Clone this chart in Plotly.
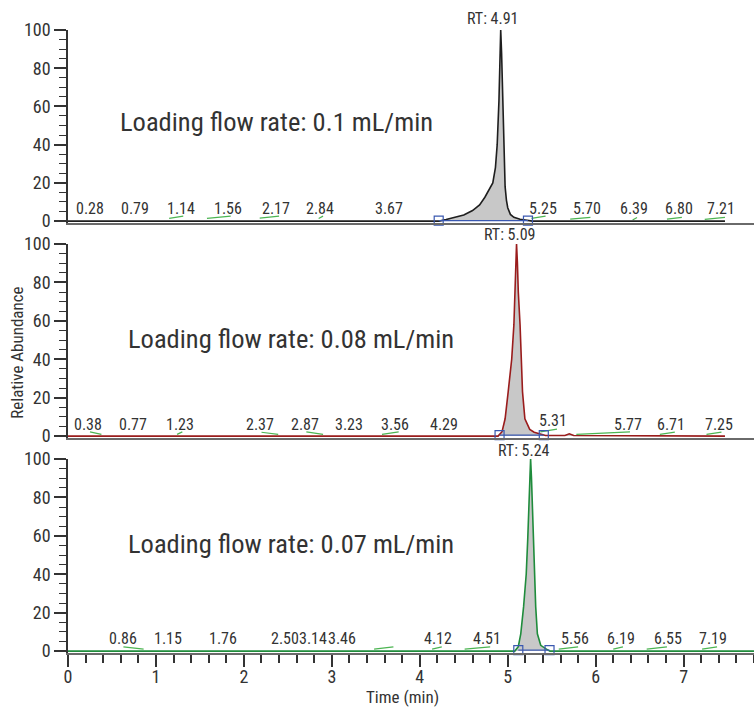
import plotly.graph_objects as go

# ---------------- data ----------------
# Panel 1: loading flow rate 0.1 mL/min
p1_t = [4.22, 4.30, 4.40, 4.50, 4.60, 4.68, 4.74, 4.79, 4.83, 4.86, 4.88, 4.90, 4.91, 4.92,
        4.93, 4.94, 4.95, 4.96, 4.97, 4.985, 5.00, 5.03, 5.07, 5.14, 5.22, 5.28]
p1_v = [0, 0.8, 1.8, 3.2, 5.5, 8.5, 12.5, 16.5, 20, 28, 40, 63, 85, 100,
        88, 70, 50, 30, 18, 11, 7, 3.5, 2, 1, 0.3, 0]
p1_end = 7.47
p1_labels = ["0.28", "0.79", "1.14", "1.56", "2.17", "2.84", "3.67", "5.25", "5.70", "6.39", "6.80", "7.21"]
p1_label_t = [0.25, 0.76, 1.28, 1.82, 2.37, 2.87, 3.65, 5.40, 5.90, 6.44, 6.95, 7.43]
p1_label_v = [6.6] * 12
p1_green_t0 = [1.15, 1.58, 2.18, 2.85, 5.27, 5.71, 6.42, 6.81, 7.24]
p1_green_v0 = [1.4, 1.4, 1.6, 1.4, 1.4, 1.0, 0.6, 1.0, 0.9]
p1_green_t1 = [1.31, 1.85, 2.40, 2.90, 5.43, 5.94, 6.47, 6.98, 7.47]
p1_green_v1 = [2.6, 2.6, 2.6, 2.6, 2.6, 1.9, 1.9, 1.9, 1.9]
p1_bounds_t = [4.215, 5.23]
p1_bounds_v = [0.2, 0.2]
p1_rt = "RT: 4.91"
p1_rt_t = 4.83
p1_title = "Loading flow rate: 0.1 mL/min"
p1_title_t = 2.37
p1_title_v = 52

# Panel 2: loading flow rate 0.08 mL/min
p2_t = [4.89, 4.935, 4.97, 5.005, 5.045, 5.07, 5.085, 5.095, 5.10, 5.11, 5.12, 5.14, 5.153,
        5.168, 5.195, 5.25, 5.30, 5.37, 5.43, 5.65, 5.70, 5.75]
p2_v = [0, 2.3, 9, 23, 40, 58, 75, 92, 100, 90, 75, 58, 40,
        23, 9, 3.5, 2, 1, 0.3, 0.3, 1.2, 0.3]
p2_end = 7.47
p2_labels = ["0.38", "0.77", "1.23", "2.37", "2.87", "3.23", "3.56", "4.29", "5.31", "5.77", "6.71", "7.25"]
p2_label_t = [0.23, 0.74, 1.27, 2.18, 2.70, 3.20, 3.72, 4.27, 5.51, 6.37, 6.86, 7.40]
p2_label_v = [6.0, 6.0, 6.0, 6.0, 6.0, 6.0, 6.0, 6.0, 8.0, 6.0, 6.0, 6.0]
p2_green_t0 = [0.25, 1.24, 2.20, 2.71, 3.57, 5.37, 5.78, 6.73, 7.26]
p2_green_v0 = [2.2, 0.9, 2.0, 2.2, 0.9, 2.2, 0.9, 0.9, 0.9]
p2_green_t1 = [0.38, 1.30, 2.39, 2.90, 3.76, 5.56, 6.39, 6.90, 7.43]
p2_green_v1 = [0.9, 2.2, 0.9, 0.9, 2.2, 3.6, 2.2, 2.1, 2.1]
p2_bounds_t = [4.907, 5.41]
p2_bounds_v = [0.5, 0.5]
p2_rt = "RT: 5.09"
p2_rt_t = 5.03
p2_title = "Loading flow rate: 0.08 mL/min"
p2_title_t = 2.53
p2_title_v = 51

# Panel 3: loading flow rate 0.07 mL/min
p3_t = [5.08, 5.12, 5.148, 5.18, 5.21, 5.227, 5.24, 5.25, 5.26, 5.27, 5.28, 5.29, 5.30,
        5.318, 5.337, 5.375, 5.44, 5.48]
p3_v = [0, 2.3, 9, 23, 40, 58, 75, 92, 100, 90, 75, 58, 40,
        23, 9, 3, 1, 0]
p3_end = 7.80
p3_labels = ["0.86", "1.15", "1.76", "2.50", "3.14", "3.46", "4.12", "4.51", "5.56", "6.19", "6.55", "7.19"]
p3_label_t = [0.63, 1.14, 1.76, 2.47, 2.79, 3.11, 4.21, 4.76, 5.77, 6.29, 6.82, 7.33]
p3_label_v = [6.4] * 12
p3_green_t0 = [0.63, 3.48, 4.14, 4.51, 5.58, 6.20, 6.58, 7.21]
p3_green_v0 = [2.2, 1.0, 1.0, 1.0, 1.0, 1.0, 1.0, 1.0]
p3_green_t1 = [0.86, 3.70, 4.25, 4.80, 5.80, 6.31, 6.81, 7.38]
p3_green_v1 = [1.0, 2.2, 2.2, 2.2, 2.2, 2.2, 2.2, 2.2]
p3_bounds_t = [5.12, 5.475]
p3_bounds_v = [0.5, 0.5]
p3_rt = "RT: 5.24"
p3_rt_t = 5.18
p3_title = "Loading flow rate: 0.07 mL/min"
p3_title_t = 2.53
p3_title_v = 56

x_ticks = [0, 1, 2, 3, 4, 5, 6, 7]
y_ticks = [0, 20, 40, 60, 80, 100]

# ---------------- styling ----------------
FONT = "Roboto Condensed, Liberation Sans Narrow, Arial Narrow, Roboto, Liberation Sans, sans-serif"
TXT = "#333333"
GREEN_SEG = "#4cb552"
BLUE = "#3a58b0"
FILL = "#c8c8c8"

panels = [
    dict(t=p1_t, v=p1_v, end=p1_end, color="#1e1e1e", labels=p1_labels, lt=p1_label_t, lv=p1_label_v,
         g=(p1_green_t0, p1_green_v0, p1_green_t1, p1_green_v1), bt=p1_bounds_t, bv=p1_bounds_v,
         rt=p1_rt, rtt=p1_rt_t, title=p1_title, tt=p1_title_t, tv=p1_title_v, rtshift=0),
    dict(t=p2_t, v=p2_v, end=p2_end, color="#9a1c1c", labels=p2_labels, lt=p2_label_t, lv=p2_label_v,
         g=(p2_green_t0, p2_green_v0, p2_green_t1, p2_green_v1), bt=p2_bounds_t, bv=p2_bounds_v,
         rt=p2_rt, rtt=p2_rt_t, title=p2_title, tt=p2_title_t, tv=p2_title_v, rtshift=-2),
    dict(t=p3_t, v=p3_v, end=p3_end, color="#1f8c3c", labels=p3_labels, lt=p3_label_t, lv=p3_label_v,
         g=(p3_green_t0, p3_green_v0, p3_green_t1, p3_green_v1), bt=p3_bounds_t, bv=p3_bounds_v,
         rt=p3_rt, rtt=p3_rt_t, title=p3_title, tt=p3_title_t, tv=p3_title_v, rtshift=-3),
]

domains = [[0.6902, 1.0], [0.3451, 0.6565], [0.0, 0.3114]]
XR = [0, 7.80]
YR = [-1, 100]

fig = go.Figure()
annotations = []

for i, p in enumerate(panels):
    n = "" if i == 0 else str(i + 1)
    xa, ya = "x" + n, "y" + n
    # filled peak
    fig.add_trace(go.Scatter(x=p["t"], y=p["v"], mode="lines", fill="tozeroy",
                             fillcolor=FILL, line=dict(width=0), xaxis=xa, yaxis=ya,
                             hoverinfo="skip", showlegend=False))
    # green integration segments
    gx, gy = [], []
    for a, b, c, d in zip(*p["g"]):
        gx += [a, c, None]
        gy += [b, d, None]
    fig.add_trace(go.Scatter(x=gx, y=gy, mode="lines", line=dict(color=GREEN_SEG, width=1.2),
                             xaxis=xa, yaxis=ya, hoverinfo="skip", showlegend=False))
    # full chromatogram line
    full_t = [0.0] + p["t"] + [p["end"]]
    full_v = [0.0] + p["v"] + [0.0]
    fig.add_trace(go.Scatter(x=full_t, y=full_v, mode="lines",
                             line=dict(color=p["color"], width=1.6),
                             xaxis=xa, yaxis=ya, hoverinfo="skip", showlegend=False))
    # peak integration boundaries
    fig.add_trace(go.Scatter(x=p["bt"], y=p["bv"], mode="lines+markers",
                             line=dict(color=BLUE, width=1.2),
                             marker=dict(symbol="square-open", size=9, color=BLUE, line=dict(width=1.2)),
                             xaxis=xa, yaxis=ya, hoverinfo="skip", showlegend=False, cliponaxis=False))
    # peak labels
    for txt, lt, lv in zip(p["labels"], p["lt"], p["lv"]):
        annotations.append(dict(x=lt, y=lv, xref=xa, yref=ya, text=txt, showarrow=False,
                                xanchor="center", yanchor="middle",
                                font=dict(family=FONT, size=16, color=TXT)))
    # RT label
    annotations.append(dict(x=p["rtt"], y=100, xref=xa, yref=ya, text=p["rt"], showarrow=False,
                            xanchor="center", yanchor="bottom", yshift=p["rtshift"],
                            font=dict(family=FONT, size=16, color=TXT)))
    # big title
    annotations.append(dict(x=p["tt"], y=p["tv"], xref=xa, yref=ya, text=p["title"], showarrow=False,
                            xanchor="center", yanchor="middle",
                            font=dict(family=FONT, size=26.5, color=TXT)))

    bottom = (i == 2)
    fig.update_layout(**{
        "xaxis" + n: dict(domain=[0, 1], range=XR, anchor=ya, showgrid=False, zeroline=False,
                          showline=True, linecolor="#6a6a6a", linewidth=1.5,
                          ticks="outside" if bottom else "", ticklen=12, tickwidth=1.5, tickcolor="#333",
                          tickvals=x_ticks if bottom else [], showticklabels=bottom,
                          ticklabelstandoff=-5 if bottom else 0,
                          tickfont=dict(family=FONT, size=18, color=TXT),
                          minor=dict(dtick=0.2, tick0=0, ticks="outside", ticklen=8, tickwidth=1.5,
                                     tickcolor="#333", showgrid=False) if bottom else dict(ticks=""),
                          **({} if i == 0 else {"matches": "x"})),
        "yaxis" + n: dict(domain=domains[i], range=YR, anchor=xa, showgrid=False, zeroline=False,
                          showline=True, linecolor="#333", linewidth=1.5,
                          ticks="outside", ticklen=12, tickwidth=1.5, tickcolor="#333",
                          tickvals=y_ticks, tickfont=dict(family=FONT, size=18, color=TXT),
                          minor=dict(dtick=5, tick0=0, ticks="outside", ticklen=7, tickwidth=1.2,
                                     tickcolor="#333", showgrid=False)),
    })

annotations.append(dict(x=0.488, y=-0.0706, xref="paper", yref="paper", text="Time (min)",
                        showarrow=False, xanchor="center", yanchor="middle",
                        font=dict(family=FONT, size=17, color=TXT)))
annotations.append(dict(x=-0.0743, y=0.482, xref="paper", yref="paper", text="Relative Abundance",
                        showarrow=False, xanchor="center", yanchor="middle", textangle=-90,
                        font=dict(family=FONT, size=17, color=TXT)))

fig.update_layout(width=754, height=709, margin=dict(l=68, r=0, t=30, b=56),
                  paper_bgcolor="white", plot_bgcolor="white", showlegend=False,
                  annotations=annotations, font=dict(family=FONT, color=TXT))

fig.write_html("out.html", config={"displayModeBar": False})
